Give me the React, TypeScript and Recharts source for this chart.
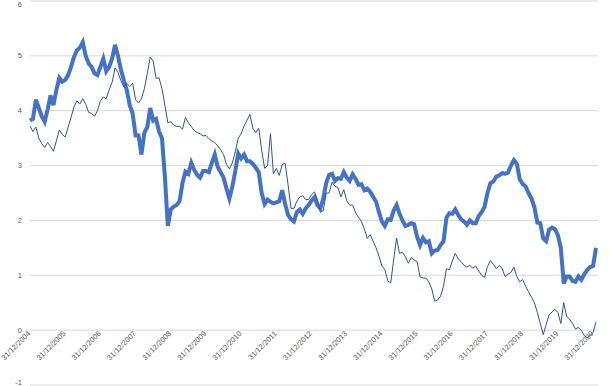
import { LineChart, Line, XAxis, YAxis, CartesianGrid } from "recharts";

// monthly readings, starting 31/12/2004
const thickSeries = [
  3.82, 3.85, 4.2, 4.05, 3.9, 3.8, 4.02, 4.28, 4.1, 4.38, 4.6, 4.53,
  4.56, 4.65, 4.8, 4.98, 5.1, 5.15, 5.25, 5.0, 4.86, 4.8, 4.68, 4.65,
  4.8, 4.95, 4.72, 4.8, 4.95, 5.2, 5.0, 4.75, 4.55, 4.38, 4.1, 3.95,
  3.55, 3.55, 3.2, 3.6, 3.7, 4.05, 3.82, 3.85, 3.62, 3.5, 2.8, 1.9,
  2.2, 2.25, 2.28, 2.35, 2.68, 2.89, 2.85, 3.05, 2.92, 2.83, 2.78, 2.9,
  2.9, 2.88, 3.05, 3.2, 2.98, 2.88, 2.78, 2.58, 2.4, 2.62, 2.9, 3.22,
  3.13, 3.2, 3.08, 3.08, 3.03, 2.96, 2.88, 2.5, 2.3, 2.38, 2.34, 2.31,
  2.33, 2.35, 2.55, 2.3, 2.1, 2.02, 1.98, 2.15, 2.2, 2.12, 2.22, 2.28,
  2.36, 2.42, 2.28, 2.22, 2.4, 2.68, 2.83, 2.85, 2.72, 2.77, 2.76, 2.88,
  2.78, 2.72, 2.84, 2.76, 2.65, 2.66, 2.55, 2.58, 2.52, 2.43, 2.34, 2.15,
  1.98, 1.9, 2.02, 2.01, 2.18, 2.28, 2.12, 2.0, 1.9, 1.92, 1.95, 1.93,
  1.7, 1.55, 1.68, 1.6, 1.62, 1.4, 1.45, 1.46, 1.55, 1.62, 2.05, 2.13,
  2.12, 2.2, 2.1, 2.02, 1.98, 1.92, 2.0, 1.95, 1.95, 2.08, 2.15, 2.25,
  2.5, 2.68, 2.71, 2.8, 2.82, 2.86, 2.85, 2.87, 3.0, 3.1, 3.03, 2.75,
  2.66, 2.62, 2.5, 2.4, 2.24, 1.96, 1.95, 1.67, 1.62, 1.83, 1.87, 1.84,
  1.73, 1.5, 0.85, 0.98, 0.98, 0.9, 0.88, 0.98, 0.92, 1.02, 1.1, 1.15,
  1.17, 1.5,
];

const thinSeries = [
  3.72, 3.62, 3.7, 3.5, 3.4, 3.33, 3.42, 3.35, 3.26, 3.45, 3.65, 3.57,
  3.52, 3.7, 3.88, 4.07, 4.18, 4.12, 4.22, 4.12, 3.97, 3.95, 3.9, 4.0,
  4.18, 4.25, 4.22, 4.38, 4.52, 4.78, 4.7, 4.55, 4.43, 4.5, 4.44, 4.5,
  4.2, 4.14, 4.22, 4.4, 4.68, 4.98, 4.9, 4.59, 4.6, 4.4, 4.1, 3.78,
  3.8, 3.74, 3.71, 3.72, 3.66, 3.88, 3.78, 3.71, 3.64, 3.6, 3.58, 3.54,
  3.55, 3.49, 3.45, 3.42, 3.36, 3.29, 3.2, 3.02, 2.94, 3.05, 3.25, 3.5,
  3.58, 3.72, 3.83, 3.93, 3.68, 3.6, 3.68, 3.28, 2.95, 3.0, 3.58, 2.85,
  2.95, 2.82, 3.02, 3.04, 2.65, 2.22, 2.22, 2.35, 2.43, 2.45, 2.38, 2.38,
  2.47, 2.52, 2.38, 2.15, 2.18, 2.5, 2.5, 2.7, 2.62, 2.6, 2.43, 2.56,
  2.36, 2.28, 2.28, 2.14, 2.06, 1.98, 1.85, 1.67, 1.74, 1.62, 1.5, 1.35,
  1.17, 1.1, 0.9, 0.86, 1.28, 1.68, 1.4, 1.42, 1.34, 1.22, 1.32, 1.28,
  1.25, 0.97, 0.95, 0.95, 0.88, 0.75, 0.53, 0.55, 0.62, 0.8, 1.12, 1.1,
  1.26, 1.4, 1.3, 1.25, 1.18, 1.15, 1.18, 1.13, 1.17, 1.08, 1.0, 0.96,
  1.16, 1.27, 1.2, 1.12, 1.18, 1.12, 0.98, 1.02, 1.05, 1.15, 0.98, 0.88,
  0.92, 0.8, 0.7, 0.6, 0.5, 0.32, 0.12, -0.08, 0.1, 0.28, 0.33, 0.38,
  0.32, 0.12, 0.5, 0.25, 0.2, 0.12, 0.02, 0.05, 0.0, -0.1, -0.14, -0.1,
  -0.04, 0.15,
];

const tickLabels = [
  "31/12/2004", "31/12/2005", "31/12/2006", "31/12/2007", "31/12/2008",
  "31/12/2009", "31/12/2010", "31/12/2011", "31/12/2012", "31/12/2013",
  "31/12/2014", "31/12/2015", "31/12/2016", "31/12/2017", "31/12/2018",
  "31/12/2019", "31/12/2020",
];

const yTicks = [-1, 0, 1, 2, 3, 4, 5, 6];

const yearTicks = tickLabels.map((_, i) => 2005 + i);

const data = thickSeries.map((v, i) => ({
  t: 2005 + i / 12,
  thick: v,
  thin: thinSeries[i],
}));

const W = 610;
const H = 386;
const TOP = 1;
const AXIS_H = 1;
const plotH = H - TOP - AXIS_H;
const yMin = -1;
const yMax = 6;
const zeroY = TOP + (plotH * yMax) / (yMax - yMin);

const FONT = "'Liberation Sans', Arial, sans-serif";
const GREY = "#595959";

// Excel puts the date labels under the zero line, not at the plot bottom
const DateTick = (props: any) => {
  const { x, payload } = props;
  const i = yearTicks.indexOf(payload.value);
  const y = zeroY + 4;
  return (
    <text
      x={x + 1}
      y={y}
      transform={`rotate(-45, ${x + 1}, ${y})`}
      textAnchor="end"
      fontSize={7.5}
      fontFamily={FONT}
      fill={GREY}
    >
      {i >= 0 ? tickLabels[i] : ""}
    </text>
  );
};

// keep the end labels inside the frame
const ValueTick = (props: any) => {
  const { x, y, payload } = props;
  const yy = Math.min(Math.max(y, 4), H - 4);
  return (
    <text
      x={x}
      y={yy}
      dy={2.5}
      textAnchor="end"
      fontSize={7.5}
      fontFamily={FONT}
      fill={GREY}
    >
      {payload.value}
    </text>
  );
};

export default function App() {
  return (
    <div style={{ position: "absolute", left: 0, top: 0, width: W, height: H, background: "#fff" }}>
      <LineChart
        width={W}
        height={H}
        data={data}
        margin={{ top: TOP, right: 12, bottom: 0, left: 0 }}
      >
        <CartesianGrid vertical={false} stroke="#d9d9d9" strokeWidth={1} />
        <XAxis
          dataKey="t"
          type="number"
          domain={[2005, 2021.14]}
          ticks={yearTicks}
          axisLine={false}
          tickLine={false}
          height={AXIS_H}
          interval={0}
          tick={DateTick}
        />
        <YAxis
          domain={[yMin, yMax]}
          ticks={yTicks}
          width={30}
          axisLine={false}
          tickLine={false}
          interval={0}
          tick={ValueTick}
        />
        <Line
          type="linear"
          dataKey="thick"
          stroke="#4472c4"
          strokeWidth={4}
          dot={false}
          isAnimationActive={false}
        />
        <Line
          type="linear"
          dataKey="thin"
          stroke="#2f5597"
          strokeWidth={1}
          dot={false}
          isAnimationActive={false}
        />
      </LineChart>
    </div>
  );
}
